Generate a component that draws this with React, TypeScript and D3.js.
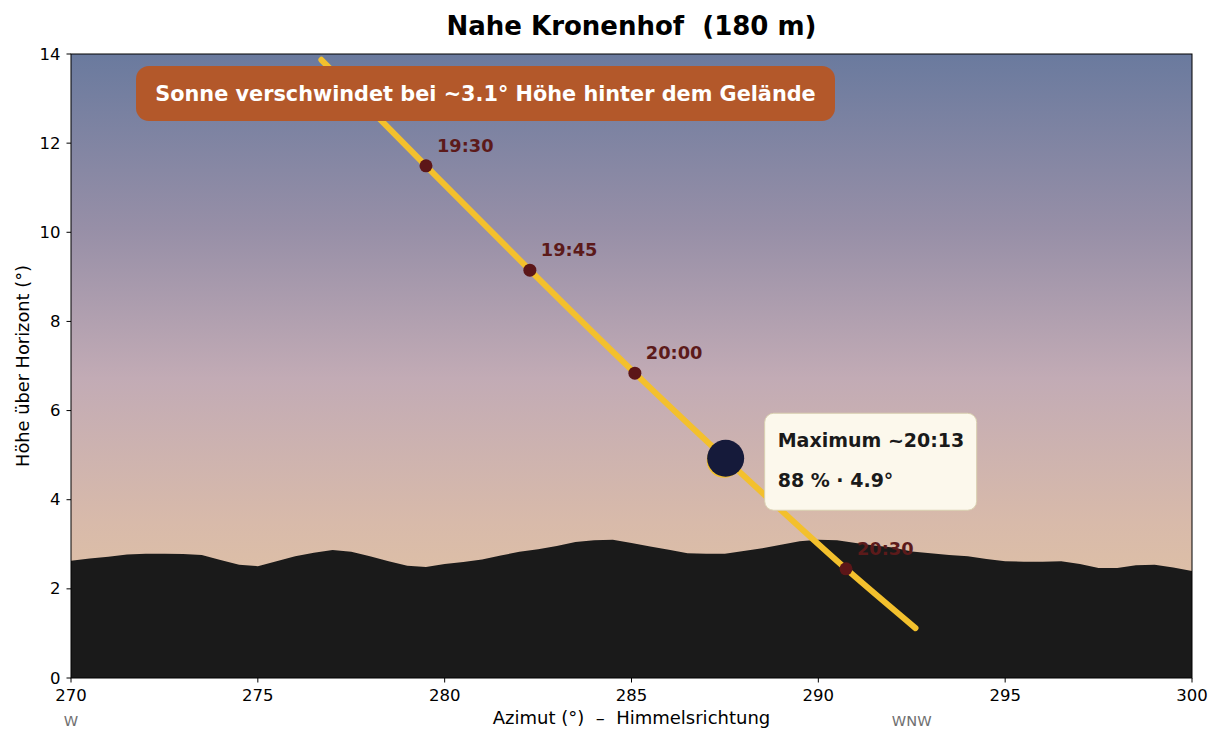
import React from "react";
import * as d3 from "d3";

// ---------- data ----------
const terrainAz = [
  270, 270.5, 271, 271.5, 272, 272.5, 273, 273.5, 274, 274.5, 275, 275.5, 276, 276.5, 277, 277.5,
  278, 278.5, 279, 279.5, 280, 280.5, 281, 281.5, 282, 282.5, 283, 283.5, 284, 284.5, 285, 285.5,
  286, 286.5, 287, 287.5, 288, 288.5, 289, 289.5, 290, 290.5, 291, 291.5, 292, 292.5, 293, 293.5,
  294, 294.5, 295, 295.5, 296, 296.5, 297, 297.5, 298, 298.5, 299, 299.5, 300,
];
const terrainAlt = [
  2.63, 2.68, 2.72, 2.77, 2.79, 2.79, 2.78, 2.76, 2.65, 2.54, 2.51, 2.62, 2.73, 2.81, 2.87, 2.83,
  2.73, 2.62, 2.52, 2.49, 2.56, 2.6, 2.66, 2.75, 2.83, 2.89, 2.96, 3.05, 3.09, 3.1, 3.03, 2.95,
  2.88, 2.8, 2.79, 2.79, 2.85, 2.91, 2.99, 3.07, 3.1, 3.09, 3.03, 2.97, 2.93, 2.84, 2.8, 2.76,
  2.73, 2.67, 2.62, 2.61, 2.61, 2.62, 2.56, 2.47, 2.47, 2.53, 2.54, 2.48, 2.4,
];

const pathTimes = ["19:15", "19:30", "19:45", "20:00", "20:15", "20:30", "20:40"];
const pathAz = [276.7, 279.5, 282.28, 285.09, 287.9, 290.74, 292.6];
const pathAlt = [13.87, 11.49, 9.15, 6.84, 4.62, 2.45, 1.12];

const markTimes = ["19:30", "19:45", "20:00", "20:30"];
const markAz = [279.5, 282.28, 285.09, 290.74];
const markAlt = [11.49, 9.15, 6.84, 2.45];

const maxTime = "20:13";
const maxAz = 287.52;
const maxAlt = 4.93;
const maxAltLabel = "4.9";
const maxCoverage = 88;

const disappearAlt = 3.1;

const xTicks = [270, 275, 280, 285, 290, 295, 300];
const yTicks = [0, 2, 4, 6, 8, 10, 12, 14];
const compassLabels = ["W", "WNW"];
const compassAz = [270, 292.5];

const NB = "\u00a0";
const title = `Nahe Kronenhof ${NB}(180 m)`;
const xLabel = `Azimut (°) ${NB}–${NB} Himmelsrichtung`;
const yLabel = "Höhe über Horizont (°)";

// ---------- layout ----------
const W = 1224;
const H = 744;
const M = { left: 71, right: 1192, top: 54, bottom: 678 };
const FONT = "DejaVu Sans, Verdana, sans-serif";

export default function App() {
  const x = d3.scaleLinear().domain([270, 300]).range([M.left, M.right]);
  const y = d3.scaleLinear().domain([0, 14]).range([M.bottom, M.top]);

  const terrain = terrainAz.map((a, i) => [a, terrainAlt[i]] as [number, number]);
  const area = d3
    .area<[number, number]>()
    .x((d) => x(d[0]))
    .y0(y(0))
    .y1((d) => y(d[1]))(terrain) as string;

  const path = pathAz.map((a, i) => [a, pathAlt[i]] as [number, number]);
  const line = d3
    .line<[number, number]>()
    .x((d) => x(d[0]))
    .y((d) => y(d[1]))
    .curve(d3.curveMonotoneX)(path) as string;

  const sx = x(maxAz);
  const sy = y(maxAlt);

  return (
    <>
      <style>{`body{margin:0;background:#fff}`}</style>
      <svg width={W} height={H} style={{ display: "block", fontFamily: FONT }}>
        <defs>
          <linearGradient id="sky" x1="0" y1="0" x2="0" y2="1">
            <stop offset="0%" stopColor="#6a7a9e" />
            <stop offset="28%" stopColor="#978fa7" />
            <stop offset="52%" stopColor="#c2abb5" />
            <stop offset="75%" stopColor="#d8baaa" />
            <stop offset="100%" stopColor="#e6c8a0" />
          </linearGradient>
          <clipPath id="plotclip">
            <rect x={M.left} y={M.top} width={M.right - M.left} height={M.bottom - M.top} />
          </clipPath>
        </defs>

        <rect x={M.left} y={M.top} width={M.right - M.left} height={M.bottom - M.top} fill="url(#sky)" />
        <g clipPath="url(#plotclip)">
          <path d={area} fill="#1a1a1a" />
          <path d={line} fill="none" stroke="#f3c02d" strokeWidth={6} strokeLinecap="round" />
          {markAz.map((a, i) => (
            <g key={markTimes[i]}>
              <circle cx={x(a)} cy={y(markAlt[i])} r={6.5} fill="#5c1618" />
              <text
                x={x(a) + 11}
                y={y(markAlt[i]) - 14}
                fill="#5c1a1a"
                fontSize={17.8}
                fontWeight="bold"
              >
                {markTimes[i]}
              </text>
            </g>
          ))}
          <circle cx={sx - 1.5} cy={sy + 2} r={17.5} fill="#f3c02d" />
          <circle cx={sx} cy={sy} r={18.5} fill="#151a3a" />
        </g>

        {/* frame */}
        <rect
          x={M.left}
          y={M.top}
          width={M.right - M.left}
          height={M.bottom - M.top}
          fill="none"
          stroke="#000"
          strokeWidth={1}
        />

        {/* x axis */}
        {xTicks.map((t) => (
          <g key={t}>
            <line x1={x(t)} x2={x(t)} y1={M.bottom} y2={M.bottom + 4.5} stroke="#000" />
            <text x={x(t)} y={M.bottom + 23} textAnchor="middle" fontSize={16.5} fill="#000">
              {t}
            </text>
          </g>
        ))}
        {/* y axis */}
        {yTicks.map((t) => (
          <g key={t}>
            <line x1={M.left - 4.5} x2={M.left} y1={y(t)} y2={y(t)} stroke="#000" />
            <text x={M.left - 10.5} y={y(t) + 5.5} textAnchor="end" fontSize={16.5} fill="#000">
              {t}
            </text>
          </g>
        ))}

        {compassLabels.map((c, i) => (
          <text key={c} x={x(compassAz[i])} y={726} textAnchor="middle" fontSize={14.6} fill="#707070">
            {c}
          </text>
        ))}

        <text x={(M.left + M.right) / 2} y={724} textAnchor="middle" fontSize={18} fill="#000">
          {xLabel}
        </text>
        <text
          transform={`translate(29, ${(M.top + M.bottom) / 2}) rotate(-90)`}
          textAnchor="middle"
          fontSize={17.8}
          fill="#000"
        >
          {yLabel}
        </text>

        <text
          x={(M.left + M.right) / 2}
          y={35}
          textAnchor="middle"
          fontSize={26}
          fontWeight="bold"
          fill="#000"
        >
          {title}
        </text>

        {/* disappearance annotation */}
        <rect x={136} y={66} width={699} height={55} rx={13} fill="#b3582a" />
        <text x={485.5} y={101} textAnchor="middle" fontSize={20.8} fontWeight="bold" fill="#fff">
          {`Sonne verschwindet bei ~${disappearAlt}° Höhe hinter dem Gelände`}
        </text>

        {/* maximum box */}
        <rect
          x={sx + 39}
          y={sy - 45}
          width={212}
          height={97}
          rx={9}
          fill="#fcf8ec"
          stroke="#d9d0b0"
          strokeWidth={1}
        />
        <text x={sx + 52} y={sy - 11} fontSize={19} fontWeight="bold" fill="#1a1a1a">
          {`Maximum ~${maxTime}`}
        </text>
        <text x={sx + 52} y={sy + 29} fontSize={19} fontWeight="bold" fill="#1a1a1a">
          {`${maxCoverage} % · ${maxAltLabel}°`}
        </text>
      </svg>
    </>
  );
}
